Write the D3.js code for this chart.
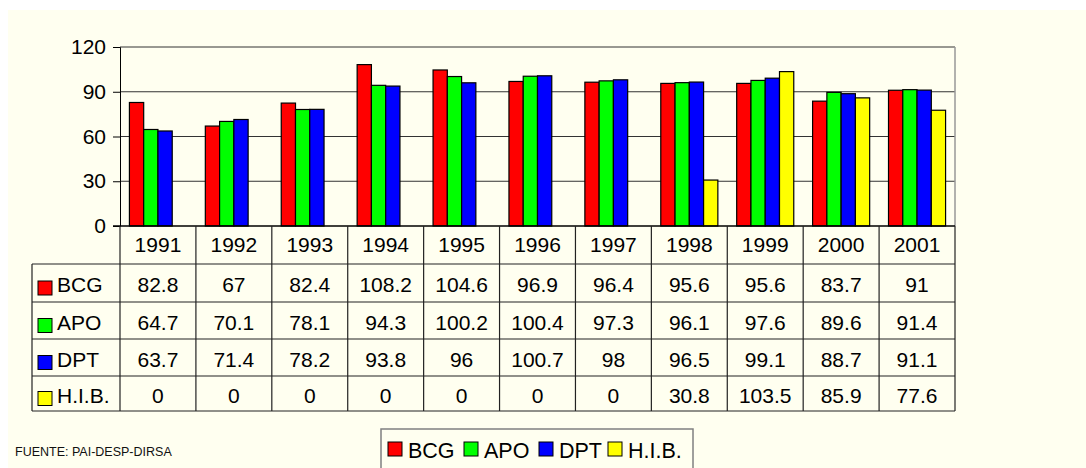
<!DOCTYPE html>
<html>
<head>
<meta charset="utf-8">
<title>Coberturas de vacunacion</title>
<script src="https://d3js.org/d3.v7.min.js"></script>
<style>
  body { margin: 0; background: #fff; }
  svg { display: block; font-family: "Liberation Sans", Arial, sans-serif; }
</style>
</head>
<body>
<svg id="chart" width="1086" height="468"></svg>
<script>
// data
var years = ["1991","1992","1993","1994","1995","1996","1997","1998","1999","2000","2001"];
var series = ["BCG","APO","DPT","H.I.B."];
var colors = ["#ff0000","#00ff00","#0000ff","#ffff00"];
var bcg = [82.8, 67, 82.4, 108.2, 104.6, 96.9, 96.4, 95.6, 95.6, 83.7, 91];
var apo = [64.7, 70.1, 78.1, 94.3, 100.2, 100.4, 97.3, 96.1, 97.6, 89.6, 91.4];
var dpt = [63.7, 71.4, 78.2, 93.8, 96, 100.7, 98, 96.5, 99.1, 88.7, 91.1];
var hib = [0, 0, 0, 0, 0, 0, 0, 30.8, 103.5, 85.9, 77.6];
var yTicks = [0, 30, 60, 90, 120];
var source = "FUENTE: PAI-DESP-DIRSA";

var values = [bcg, apo, dpt, hib];

var svg = d3.select("#chart");

// background
svg.append("rect").attr("x", 8).attr("y", 10).attr("width", 1078).attr("height", 458).attr("fill", "#fffff0");

var plotLeft = 120, plotRight = 955, plotTop = 47, plotBottom = 226;
var rowH = [264, 302, 339, 376, 411];
var tableLeft = 32;

var x0 = d3.scaleBand().domain(years).range([plotLeft, plotRight]);
var x1 = d3.scaleBand().domain(series).range([0, x0.bandwidth()]).paddingOuter(0.66);
var y = d3.scaleLinear().domain([0, 120]).range([plotBottom, plotTop]);

// gridlines
svg.append("g").selectAll("line").data(yTicks.filter(function(d){ return d > 0; })).enter()
  .append("line")
  .attr("x1", plotLeft).attr("x2", plotRight)
  .attr("y1", function(d){ return y(d); }).attr("y2", function(d){ return y(d); })
  .attr("stroke", "#333").attr("stroke-width", 1);

// right border of plot
svg.append("line").attr("x1", plotRight).attr("x2", plotRight).attr("y1", plotTop).attr("y2", plotBottom)
  .attr("stroke", "#999").attr("stroke-width", 1.5);

// y axis
var yAxis = d3.axisLeft(y).tickValues(yTicks).tickSize(7).tickPadding(7);
var ya = svg.append("g").attr("transform", "translate(" + plotLeft + ",0)").call(yAxis);
ya.select(".domain").attr("stroke", "#000");
ya.selectAll(".tick line").attr("stroke", "#000");
ya.selectAll("text").attr("font-size", 21).attr("fill", "#000")
  .attr("font-family", "Liberation Sans, Arial, sans-serif");

// bars
var groups = svg.append("g").selectAll("g").data(years).enter()
  .append("g").attr("transform", function(d){ return "translate(" + x0(d) + ",0)"; });

groups.selectAll("rect")
  .data(function(d, i){ return series.map(function(s, j){ return {s: s, v: values[j][i], c: colors[j]}; }).filter(function(e){ return e.v > 0; }); })
  .enter().append("rect")
  .attr("x", function(d){ return x1(d.s); })
  .attr("width", x1.bandwidth())
  .attr("y", function(d){ return y(d.v); })
  .attr("height", function(d){ return y(0) - y(d.v); })
  .attr("fill", function(d){ return d.c; })
  .attr("stroke", "#000").attr("stroke-width", 1.2);

// table
var tbl = svg.append("g");
var lineColor = "#222";
tbl.append("line").attr("x1", plotLeft - 7).attr("x2", plotRight).attr("y1", plotBottom).attr("y2", plotBottom).attr("stroke", "#000").attr("stroke-width", 1.5);
rowH.forEach(function(yy){
  tbl.append("line").attr("x1", tableLeft).attr("x2", plotRight).attr("y1", yy).attr("y2", yy).attr("stroke", lineColor).attr("stroke-width", 1.2);
});
years.forEach(function(yr){
  tbl.append("line").attr("x1", x0(yr)).attr("x2", x0(yr)).attr("y1", plotBottom).attr("y2", rowH[4]).attr("stroke", lineColor).attr("stroke-width", 1.2);
});
tbl.append("line").attr("x1", plotRight).attr("x2", plotRight).attr("y1", plotBottom).attr("y2", rowH[4]).attr("stroke", lineColor).attr("stroke-width", 1.2);
tbl.append("line").attr("x1", tableLeft).attr("x2", tableLeft).attr("y1", rowH[0]).attr("y2", rowH[4]).attr("stroke", lineColor).attr("stroke-width", 1.2);

// year headers
tbl.selectAll("text.yr").data(years).enter().append("text")
  .attr("x", function(d){ return x0(d) + x0.bandwidth() / 2; })
  .attr("y", (plotBottom + rowH[0]) / 2)
  .attr("dy", "0.34em").attr("text-anchor", "middle").attr("font-size", 21)
  .text(function(d){ return d; });

// rows
series.forEach(function(s, j){
  var cy = (rowH[j] + rowH[j + 1]) / 2;
  tbl.append("rect").attr("x", 38).attr("y", cy - 2).attr("width", 14).attr("height", 14)
    .attr("fill", colors[j]).attr("stroke", "#000").attr("stroke-width", 1);
  tbl.append("text").attr("x", 57).attr("y", cy).attr("dy", "0.43em").attr("font-size", 21).text(s);
  tbl.selectAll("text.v" + j).data(values[j]).enter().append("text")
    .attr("x", function(d, i){ return x0(years[i]) + x0.bandwidth() / 2; })
    .attr("y", cy).attr("dy", "0.43em").attr("text-anchor", "middle").attr("font-size", 21)
    .text(function(d){ return d; });
});

// legend
var lg = svg.append("g");
lg.append("rect").attr("x", 381).attr("y", 429).attr("width", 312).attr("height", 50)
  .attr("fill", "#fffff0").attr("stroke", "#808080").attr("stroke-width", 1.5);
var legX = [388, 464, 539, 608];
series.forEach(function(s, j){
  lg.append("rect").attr("x", legX[j]).attr("y", 442).attr("width", 14).attr("height", 14)
    .attr("fill", colors[j]).attr("stroke", "#000").attr("stroke-width", 1);
  lg.append("text").attr("x", legX[j] + 20).attr("y", 450).attr("dy", "0.36em").attr("font-size", 21.5).text(s);
});

// source
svg.append("text").attr("x", 15).attr("y", 456).attr("font-size", 12.5).attr("fill", "#111").text(source);
</script>
</body>
</html>
